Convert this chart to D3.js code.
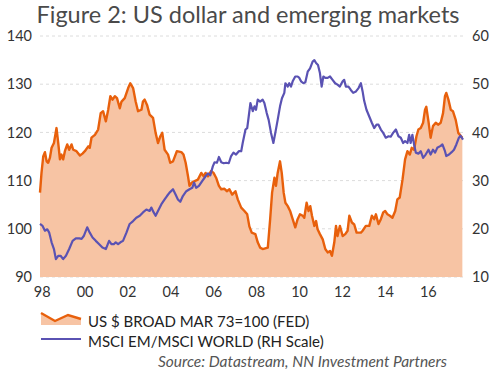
<!DOCTYPE html>
<html lang="en">
<head>
<meta charset="utf-8">
<title>Figure 2: US dollar and emerging markets</title>
<script src="https://d3js.org/d3.v7.min.js"></script>
<style>
  body { margin: 0; background: #fff; }
  svg { display: block; font-family: Lato, "Open Sans", sans-serif; }
</style>
</head>
<body>
<script>
// US $ broad index (left scale), decimal years
const usdYears = [1997.92,1997.99,1998.07,1998.15,1998.23,1998.30,1998.38,1998.46,1998.57,1998.69,1998.77,1998.85,1998.92,
  1999.00,1999.08,1999.19,1999.28,1999.39,1999.47,1999.62,1999.78,1999.90,2000.01,2000.17,2000.24,2000.32,2000.48,2000.63,
  2000.75,2000.86,2000.99,2001.10,2001.20,2001.30,2001.41,2001.51,2001.64,2001.72,2001.87,2002.03,2002.13,2002.26,2002.38,
  2002.49,2002.65,2002.72,2002.80,2002.91,2003.03,2003.19,2003.31,2003.42,2003.53,2003.62,2003.73,2003.89,2003.99,2004.12,
  2004.24,2004.30,2004.51,2004.61,2004.71,2004.82,2004.89,2005.00,2005.13,2005.28,2005.44,2005.55,2005.64,2005.75,2005.90,
  2006.01,2006.13,2006.26,2006.37,2006.52,2006.63,2006.75,2006.88,2007.03,2007.14,2007.30,2007.45,2007.58,2007.68,2007.79,
  2007.96,2008.07,2008.18,2008.30,2008.46,2008.54,2008.65,2008.74,2008.85,2008.92,2009.00,2009.11,2009.19,2009.28,2009.36,
  2009.47,2009.58,2009.70,2009.82,2009.93,2010.04,2010.17,2010.24,2010.35,2010.44,2010.52,2010.60,2010.71,2010.79,2010.86,
  2010.97,2011.10,2011.22,2011.33,2011.44,2011.53,2011.64,2011.72,2011.79,2011.90,2012.03,2012.15,2012.26,2012.34,2012.46,
  2012.57,2012.68,2012.88,2012.96,2013.11,2013.27,2013.39,2013.50,2013.58,2013.70,2013.81,2013.92,2014.01,2014.12,2014.23,
  2014.35,2014.48,2014.58,2014.69,2014.82,2014.94,2015.05,2015.16,2015.25,2015.36,2015.47,2015.56,2015.67,2015.78,2015.87,
  2015.93,2016.03,2016.13,2016.24,2016.37,2016.49,2016.60,2016.71,2016.80,2016.86,2016.96,2017.07,2017.17,2017.30,2017.42,
  2017.53,2017.61];
const usdValues = [107.5,111.6,115,115.9,114,113.7,114.7,116.8,117.8,120.9,117.8,114.4,115.4,
  114.4,116.1,117.5,116.4,117.5,116.4,116.1,115.2,115.6,116.1,117.1,116.8,118.9,119.5,120.6,
  124,124.4,122.3,124.7,127.5,126.8,127.5,127.1,125,126.4,127.1,129.2,130.2,129.2,126.4,
  124.4,124.7,126.4,126.8,125.7,123.7,123,119.9,117.8,119.2,119.9,116.4,115.4,113.7,114,
  115.4,116.1,115.9,115.4,113.7,110.9,108.9,109.6,109.9,110.2,111.6,110.9,111.6,110.9,112,
  111.6,110.6,108.9,108.2,108.3,107.8,108.2,107.1,107.8,106.1,104.4,103.7,103,100.5,99.2,
  98.9,97.2,96.1,95.8,96,96.1,102,107.5,110.6,108.9,111.6,114,111.6,107.5,105.4,
  104.7,103.7,102,100.3,102,103,102.7,102.3,105.4,103.7,104.7,102.7,100.6,101.6,99.9,
  98.9,97.8,95.8,95.1,95.4,94.4,97.2,100.6,98.5,100.6,98.5,98.9,99.6,102.7,101.3,
  100.9,99.2,99.2,99.6,100.6,100.6,102.7,102,103,101,102,103.4,103.7,103,102.7,
  102.3,103.7,106.1,106.5,110.2,114.4,116.1,115.4,116.8,116.4,119.2,120.6,120.9,122,124.7,
  125.3,122.3,118.9,121.3,122,121.6,122,124,127.5,128.2,126.8,124.7,124.4,122.6,119.9,
  119.3,118.9];

// MSCI EM / MSCI World (right scale)
const emYears = [1997.92,1998.04,1998.15,1998.26,1998.35,1998.46,1998.57,1998.66,1998.77,1998.88,1999.00,1999.13,1999.28,
  1999.44,1999.59,1999.75,1999.86,1999.96,2000.12,2000.24,2000.37,2000.52,2000.68,2000.83,2000.99,2001.14,2001.25,2001.36,
  2001.45,2001.56,2001.67,2001.79,2001.95,2002.10,2002.26,2002.41,2002.57,2002.72,2002.88,2003.03,2003.11,2003.22,2003.31,
  2003.42,2003.58,2003.73,2003.84,2003.96,2004.12,2004.24,2004.35,2004.46,2004.58,2004.74,2004.89,2005.02,2005.10,2005.20,
  2005.33,2005.48,2005.64,2005.75,2005.86,2005.98,2006.06,2006.17,2006.26,2006.37,2006.48,2006.60,2006.72,2006.83,2006.94,
  2007.06,2007.19,2007.30,2007.37,2007.50,2007.58,2007.65,2007.73,2007.84,2007.92,2007.99,2008.07,2008.18,2008.30,2008.38,
  2008.49,2008.58,2008.69,2008.80,2008.89,2009.00,2009.11,2009.20,2009.31,2009.36,2009.47,2009.54,2009.62,2009.70,2009.82,
  2009.93,2010.01,2010.09,2010.20,2010.29,2010.40,2010.51,2010.63,2010.71,2010.79,2010.88,2010.97,2011.05,2011.13,2011.22,
  2011.33,2011.44,2011.56,2011.68,2011.79,2011.90,2012.03,2012.10,2012.18,2012.30,2012.41,2012.52,2012.65,2012.77,2012.88,
  2012.96,2013.03,2013.14,2013.27,2013.39,2013.50,2013.61,2013.70,2013.81,2013.92,2014.04,2014.17,2014.27,2014.38,2014.51,
  2014.63,2014.74,2014.85,2014.94,2015.05,2015.13,2015.20,2015.28,2015.36,2015.44,2015.56,2015.67,2015.78,2015.90,2016.03,
  2016.13,2016.24,2016.34,2016.44,2016.60,2016.68,2016.80,2016.86,2016.99,2017.11,2017.22,2017.33,2017.45,2017.53,2017.64];
const emValues = [21,20.6,19.6,19.9,19.2,17.2,15.8,13.7,14.4,14.4,13.7,14.4,15.8,
  17.5,18,18,17.9,18.5,20.3,19.2,18.2,17.5,16.8,16.1,15.8,17.5,16.8,16.8,
  17.2,16.8,17.2,17.5,19.2,21,21.6,22.3,22.7,23.4,24,23.7,24.4,23.4,22.7,
  23.7,25.1,26.1,26.8,27.5,28.2,27.1,26.1,25.6,26.8,27.8,28.2,28.5,29.6,28.5,
  28.9,29.9,30.9,31.5,31.1,33,33.8,33.7,34.9,33.8,33.6,33.7,33.6,35.1,35.8,
  35.4,36.1,36.1,37.8,40.6,40.9,43.3,46.1,44.4,45.4,44.7,46.8,46.4,46.8,46.1,
  44,42.6,39.9,37.8,39.9,42.6,45.4,47.1,48.2,50.2,49.5,50.2,49.5,50.6,51.6,
  51.6,51.3,50.6,50.2,50.4,52.6,53.3,54.7,55,54.4,54,52.3,49.5,51.6,51.3,
  51.3,51.6,50.9,50.2,49.9,49.5,50.6,50.9,49.5,49.5,48.8,48.2,48.5,49.2,50.2,
  48.5,46.6,44.7,43.3,42,40.9,41.6,41.6,40.6,39.9,38.9,39.2,39.1,39.9,40.6,
  39.2,38.9,37.8,38.2,37.8,39.5,37.8,39.5,37.5,35.8,35.6,36.1,34.7,35.4,36.4,
  35.4,36.4,35.8,36.8,37.2,37.5,36.1,35.1,35.4,35.9,36.4,37.5,38.9,39.3,38.5];

const xTicks = [1998, 2000, 2002, 2004, 2006, 2008, 2010, 2012, 2014, 2016];
const leftTicks = [90, 100, 110, 120, 130, 140];
const rightTicks = [10, 20, 30, 40, 50, 60];

const width = 500;
const height = 375;
const plot = {left: 40, right: 463, top: 36, bottom: 277};

const usd = usdYears.map((t, i) => ({t: t, v: usdValues[i]}));
const em = emYears.map((t, i) => ({t: t, v: emValues[i]}));

const xScale = d3.scaleLinear()
    .domain([d3.min(usdYears), d3.max(emYears)])
    .range([plot.left, plot.right]);

const yLeft = d3.scaleLinear().domain([90, 140]).range([plot.bottom, plot.top]);
const yRight = d3.scaleLinear().domain([10, 60]).range([plot.bottom, plot.top]);

const svg = d3.select("body").append("svg")
    .attr("width", width)
    .attr("height", height);

// title
svg.append("text")
    .attr("x", 248)
    .attr("y", 23)
    .attr("text-anchor", "middle")
    .attr("fill", "#4a4a4a")
    .style("font-size", "23.5px")
    .text("Figure 2: US dollar and emerging markets");

// gridlines
svg.append("g")
    .selectAll("line")
    .data(leftTicks)
    .enter()
    .append("line")
    .attr("x1", plot.left)
    .attr("x2", plot.right)
    .attr("y1", d => yLeft(d))
    .attr("y2", d => yLeft(d))
    .attr("stroke", "#dcdcdc")
    .attr("stroke-dasharray", "3,3");

// left axis
const leftAxis = d3.axisLeft(yLeft).tickValues(leftTicks).tickSize(0).tickPadding(7);
svg.append("g")
    .attr("transform", "translate(" + (plot.left - 1) + ",0)")
    .call(leftAxis)
    .call(g => g.select(".domain").remove())
    .selectAll("text")
    .attr("fill", "#333")
    .style("font-size", "14.5px")
    .style("font-family", "Lato, sans-serif");

// right axis
const rightAxis = d3.axisRight(yRight).tickValues(rightTicks).tickSize(0).tickPadding(9);
svg.append("g")
    .attr("transform", "translate(" + plot.right + ",0)")
    .call(rightAxis)
    .call(g => g.select(".domain").remove())
    .selectAll("text")
    .attr("fill", "#333")
    .style("font-size", "14.5px")
    .style("font-family", "Lato, sans-serif");

// bottom axis
const bottomAxis = d3.axisBottom(xScale)
    .tickValues(xTicks)
    .tickSize(0)
    .tickPadding(10)
    .tickFormat(d => String(d % 100).padStart(2, "0"));
svg.append("g")
    .attr("transform", "translate(0," + plot.bottom + ")")
    .call(bottomAxis)
    .call(g => g.select(".domain").remove())
    .selectAll("text")
    .attr("fill", "#333")
    .style("font-size", "14.5px")
    .style("font-family", "Lato, sans-serif");

// dollar area + line
const area = d3.area()
    .x(d => xScale(d.t))
    .y0(yLeft(90))
    .y1(d => yLeft(d.v));

svg.append("path")
    .datum(usd)
    .attr("d", area)
    .attr("fill", "#f7c4a4");

svg.append("path")
    .datum(usd)
    .attr("d", d3.line().x(d => xScale(d.t)).y(d => yLeft(d.v)))
    .attr("fill", "none")
    .attr("stroke", "#e8600c")
    .attr("stroke-width", 2.4)
    .attr("stroke-linejoin", "round");

// EM/World line
svg.append("path")
    .datum(em)
    .attr("d", d3.line().x(d => xScale(d.t)).y(d => yRight(d.v)))
    .attr("fill", "none")
    .attr("stroke", "#5a52b3")
    .attr("stroke-width", 2.2)
    .attr("stroke-linejoin", "round");

// legend
const lg = svg.append("g");
lg.append("path")
    .attr("d", "M41,313 L55,321 L68,315 L81,319 L81,325 L41,325 Z")
    .attr("fill", "#f7c4a4");
lg.append("path")
    .attr("d", "M41,313 L55,321 L68,315 L81,319")
    .attr("fill", "none")
    .attr("stroke", "#e8600c")
    .attr("stroke-width", 2.4);
lg.append("text")
    .attr("x", 88)
    .attr("y", 327)
    .attr("fill", "#222")
    .style("font-size", "15px")
    .text("US $ BROAD MAR 73=100 (FED)");

lg.append("line")
    .attr("x1", 41).attr("x2", 81)
    .attr("y1", 339).attr("y2", 339)
    .attr("stroke", "#5a52b3")
    .attr("stroke-width", 2.2);
lg.append("text")
    .attr("x", 88)
    .attr("y", 347)
    .attr("fill", "#222")
    .style("font-size", "15px")
    .text("MSCI EM/MSCI WORLD (RH Scale)");

svg.append("text")
    .attr("x", 447)
    .attr("y", 367)
    .attr("text-anchor", "end")
    .attr("fill", "#555")
    .style("font-size", "15.5px")
    .style("font-style", "italic")
    .text("Source: Datastream, NN Investment Partners");
</script>
</body>
</html>
